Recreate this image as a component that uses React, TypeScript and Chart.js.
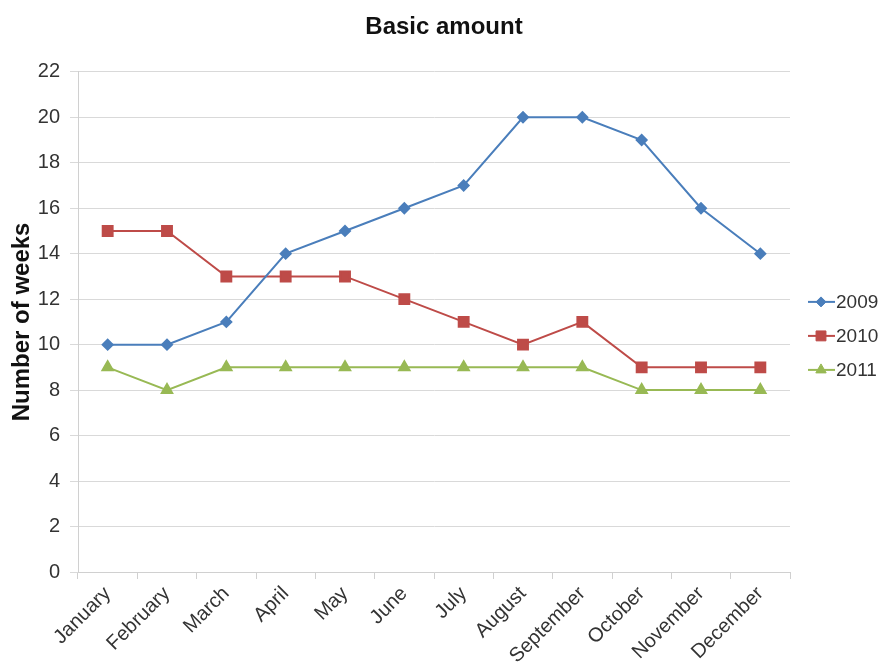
import React, { useEffect, useRef } from "react";
import { Chart, registerables } from "chart.js";
import { drawPoint } from "chart.js/helpers";

Chart.register(...registerables);

const months = [
  "January", "February", "March", "April", "May", "June",
  "July", "August", "September", "October", "November", "December",
];
const weeks2009 = [10, 10, 11, 14, 15, 16, 17, 20, 20, 19, 16, 14];
const weeks2010 = [15, 15, 13, 13, 13, 12, 11, 10, 11, 9, 9, 9];
const weeks2011 = [9, 8, 9, 9, 9, 9, 9, 9, 9, 8, 8, 8];
const seriesNames = ["2009", "2010", "2011"];

const FONT = "'Liberation Sans', Arial, sans-serif";

// Legend drawn as a short line with the series marker, followed by the name
const sideLegend = {
  id: "sideLegend",
  afterDraw(chart: any) {
    const ctx = chart.ctx;
    const x0 = chart.chartArea.right + 18;
    const rowH = 34;
    const n = chart.data.datasets.length;
    const midY = (chart.chartArea.top + chart.chartArea.bottom) / 2 + 14;
    const startY = midY - ((n - 1) * rowH) / 2;
    chart.data.datasets.forEach((ds: any, i: number) => {
      const y = startY + i * rowH;
      ctx.save();
      ctx.strokeStyle = ds.borderColor;
      ctx.lineWidth = 2;
      ctx.beginPath();
      ctx.moveTo(x0, y);
      ctx.lineTo(x0 + 27, y);
      ctx.stroke();
      ctx.fillStyle = ds.backgroundColor;
      ctx.strokeStyle = ds.borderColor;
      ctx.lineWidth = 1;
      drawPoint(
        ctx,
        {
          pointStyle: ds.pointStyle,
          radius: ds.pointRadius,
          borderWidth: 1,
          rotation: 0,
        },
        x0 + 13,
        y
      );
      ctx.fillStyle = "#333";
      ctx.font = `19px ${FONT}`;
      ctx.textBaseline = "middle";
      ctx.textAlign = "left";
      ctx.fillText(ds.label, x0 + 28, y + 1);
      ctx.restore();
    });
  },
};

function makeSet(label: string, data: number[], color: string, style: string, r: number) {
  return {
    label,
    data,
    borderColor: color,
    backgroundColor: color,
    pointBackgroundColor: color,
    pointBorderColor: color,
    pointStyle: style,
    pointRadius: r,
    borderWidth: 2,
    tension: 0,
    yAxisID: "y",
  };
}

export default function App() {
  const ref = useRef<HTMLCanvasElement>(null);

  useEffect(() => {
    if (!ref.current) return;
    const chart = new Chart(ref.current, {
      type: "line",
      data: {
        labels: months,
        datasets: [
          makeSet(seriesNames[0], weeks2009, "#4a7ebb", "rectRot", 5),
          makeSet(seriesNames[1], weeks2010, "#be4b48", "rect", 7),
          makeSet(seriesNames[2], weeks2011, "#98b954", "triangle", 6),
        ],
      },
      options: {
        animation: false,
        responsive: false,
        layout: { padding: { top: 10, right: 0, bottom: 0, left: 8 } },
        plugins: {
          legend: { display: false },
          tooltip: { enabled: false },
          title: {
            display: true,
            text: "Basic amount",
            color: "#111",
            font: { family: FONT, size: 24, weight: "bold" },
            padding: { top: 3, bottom: 30 },
          },
        },
        scales: {
          x: {
            offset: true,
            grid: {
              offset: true,
              drawOnChartArea: false,
              drawTicks: true,
              tickLength: 7,
              color: "#d0d0d0",
            },
            border: { color: "#d0d0d0", width: 1 },
            ticks: {
              color: "#333",
              font: { family: FONT, size: 20 },
              maxRotation: 45,
              minRotation: 45,
              autoSkip: false,
              padding: 3,
            },
            afterFit(scale: any) {
              scale.height = 94;
            },
          },
          y: {
            min: 0,
            max: 22,
            ticks: {
              stepSize: 2,
              color: "#333",
              font: { family: FONT, size: 20 },
              padding: 10,
            },
            grid: {
              color: "#d9d9d9",
              drawTicks: true,
              tickLength: 8,
            },
            border: { color: "#d0d0d0", width: 1 },
            title: {
              display: true,
              text: "Number of weeks",
              color: "#111",
              font: { family: FONT, size: 24, weight: "bold" },
              padding: { top: 0, bottom: 5 },
            },
            afterFit(scale: any) {
              scale.width = 70;
            },
          },
          // empty band on the right that holds the legend
          legendSpace: {
            type: "linear",
            position: "right",
            grid: { display: false, drawTicks: false },
            border: { display: false },
            ticks: { display: false },
            afterFit(scale: any) {
              scale.width = 90;
            },
          },
        },
      },
      plugins: [sideLegend],
    });
    return () => chart.destroy();
  }, []);

  return (
    <div style={{ position: "fixed", left: 0, top: 0, width: 880, height: 666, background: "#fff" }}>
      <canvas ref={ref} width={880} height={666} />
    </div>
  );
}
